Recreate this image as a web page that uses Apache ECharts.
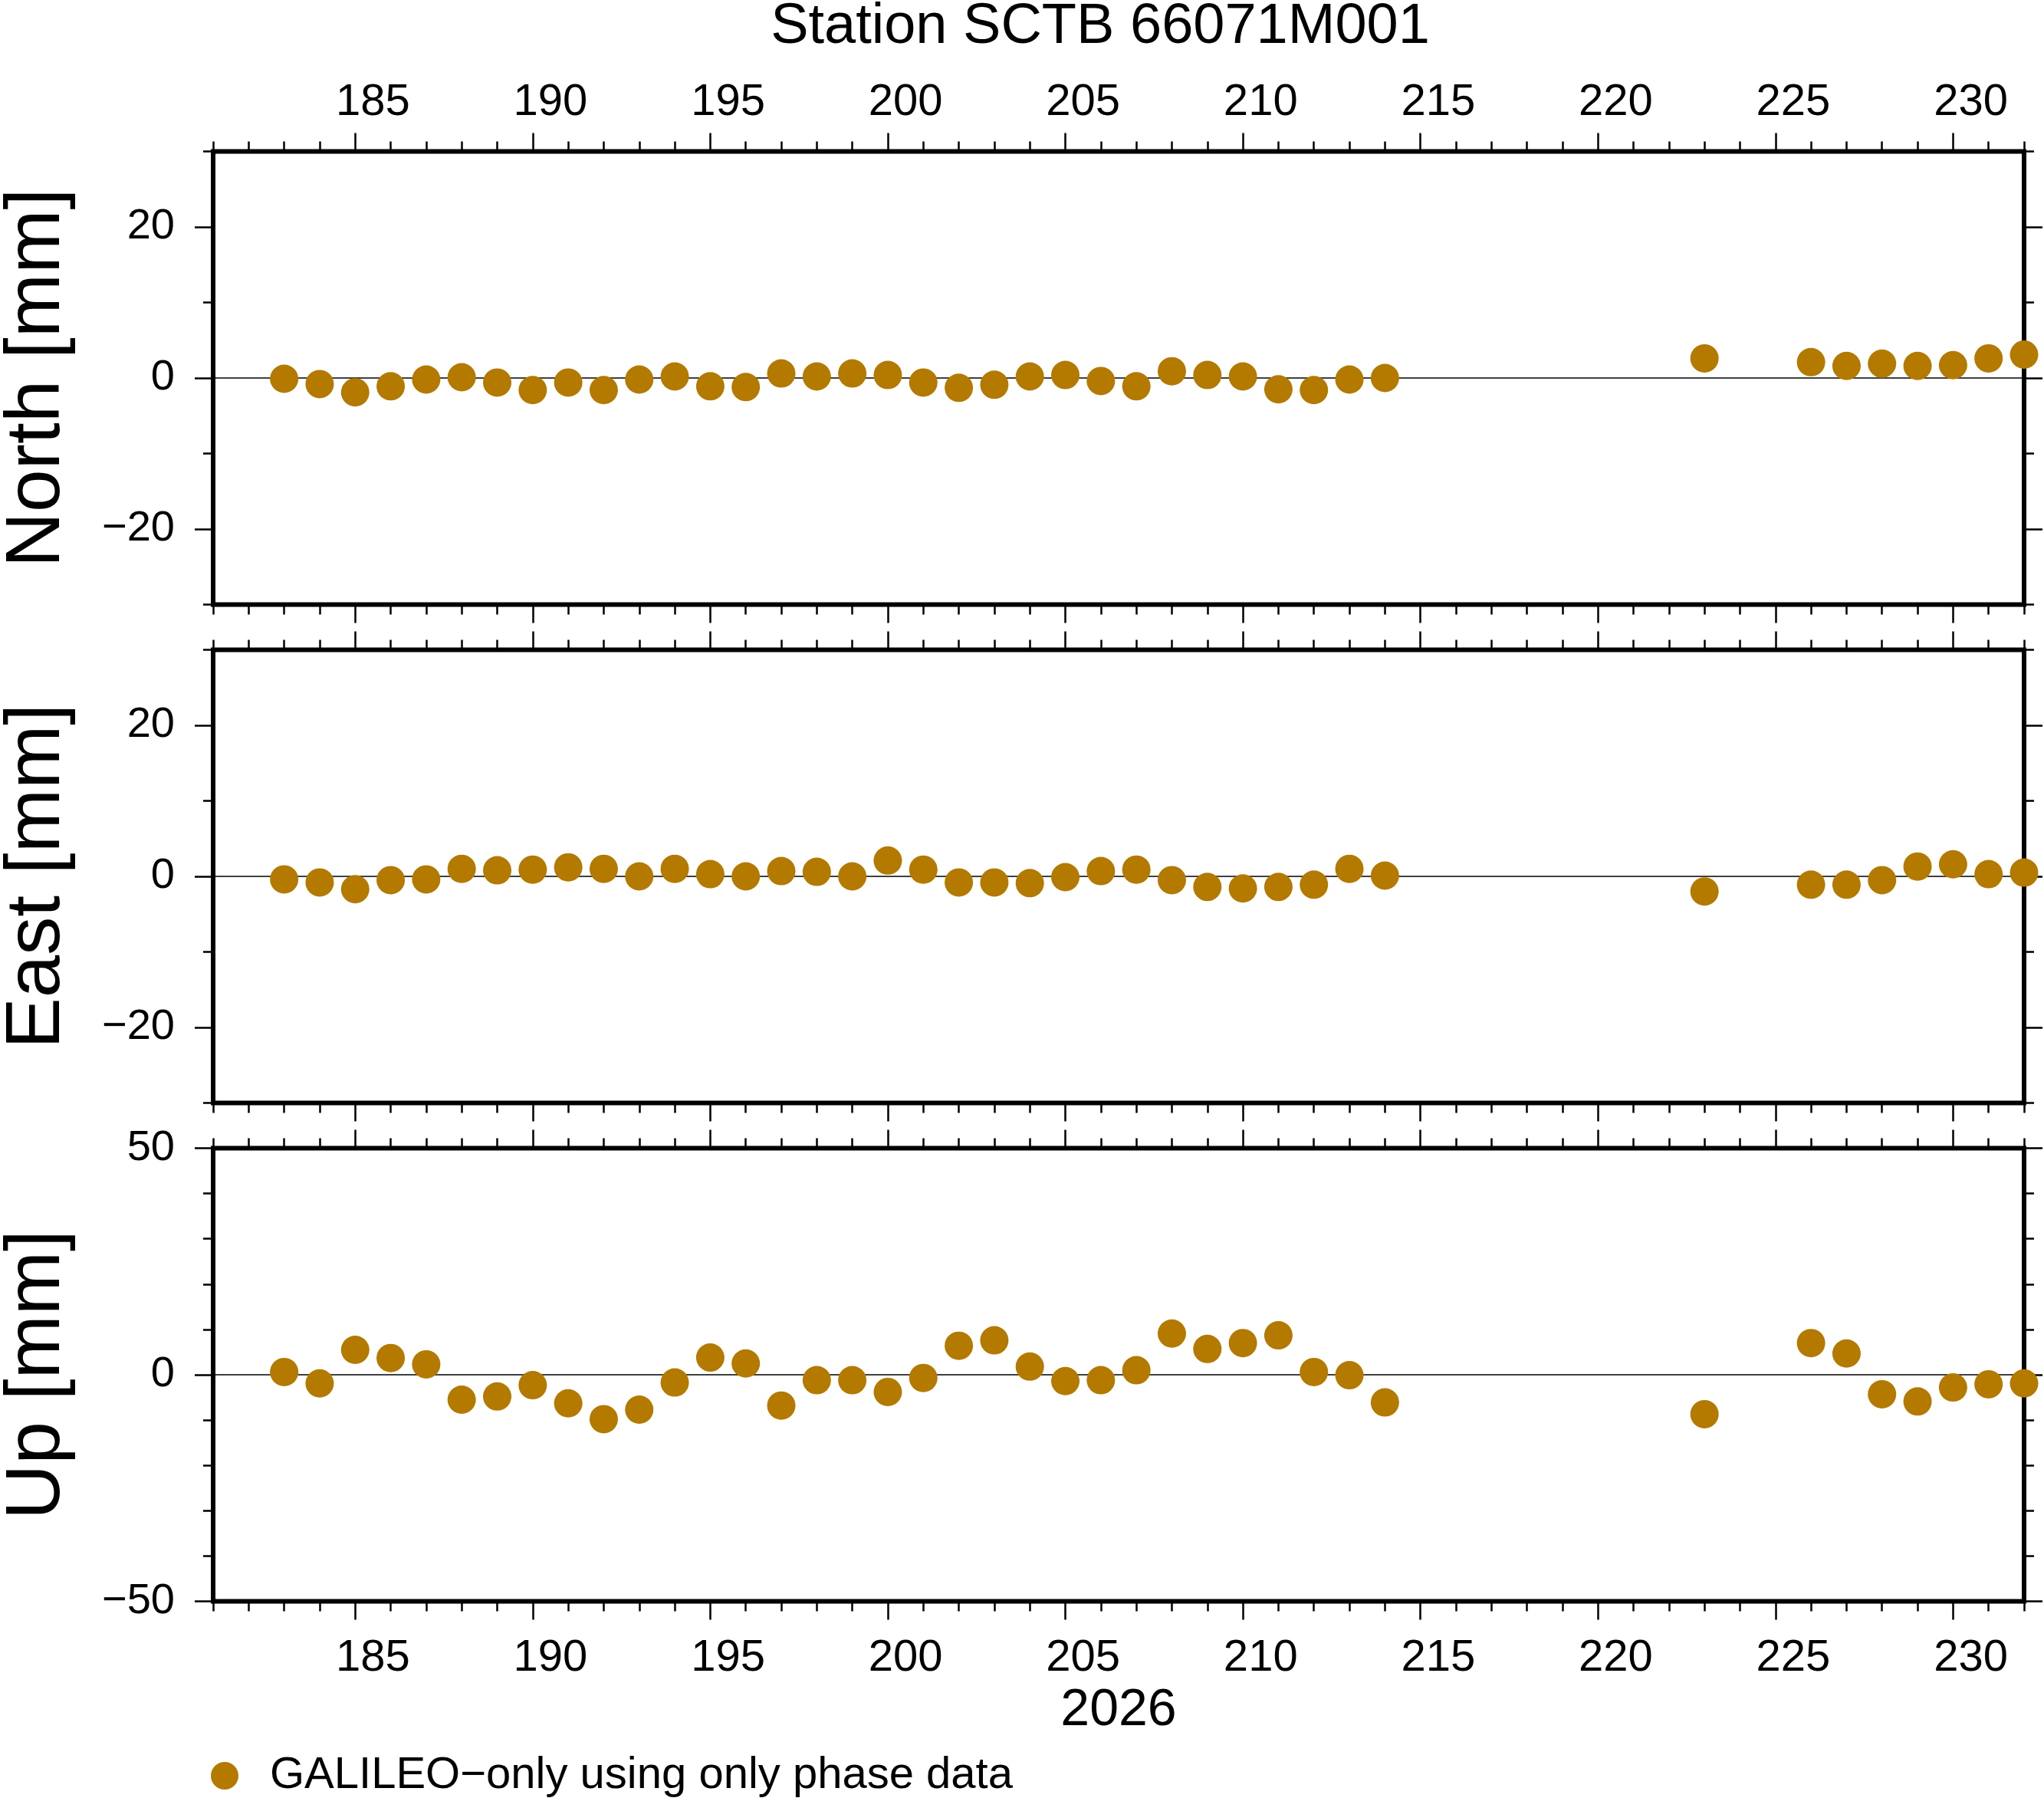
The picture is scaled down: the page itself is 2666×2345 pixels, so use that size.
<!DOCTYPE html>
<html>
<head>
<meta charset="utf-8">
<title>Station SCTB 66071M001</title>
<script src="https://cdn.jsdelivr.net/npm/echarts@6/dist/echarts.min.js"></script>
<style>
  html, body { margin: 0; padding: 0; background: #fff; }
  #chart { width: 2666px; height: 2345px; }
</style>
</head>
<body>
<div id="chart"></div>
<script>
// day of year 2026
var days = [183, 184, 185, 186, 187, 188, 189, 190, 191, 192, 193, 194, 195, 196, 197, 198,
            199, 200, 201, 202, 203, 204, 205, 206, 207, 208, 209, 210, 211, 212, 213, 214,
            223, 226, 227, 228, 229, 230, 231, 232];
// residuals in mm
var north = [-0.1, -0.8, -1.9, -1.1, -0.2, 0.1, -0.6, -1.6, -0.6, -1.6, -0.2, 0.2, -1.1, -1.2, 0.6, 0.2,
             0.6, 0.4, -0.6, -1.3, -0.9, 0.2, 0.4, -0.4, -1.1, 0.9, 0.4, 0.2, -1.5, -1.6, -0.2, 0.0,
             2.6, 2.1, 1.6, 1.9, 1.6, 1.7, 2.6, 3.1];
var east = [-0.4, -0.8, -1.7, -0.5, -0.4, 1.0, 0.8, 0.9, 1.2, 1.0, 0.0, 1.0, 0.3, 0.0, 0.7, 0.6,
            0.0, 2.1, 0.9, -0.8, -0.8, -0.9, -0.1, 0.7, 0.9, -0.5, -1.4, -1.6, -1.4, -1.1, 1.0, 0.1,
            -2.0, -1.1, -1.1, -0.5, 1.3, 1.6, 0.3, 0.5];
var up = [0.6, -1.9, 5.5, 3.7, 2.3, -5.5, -4.8, -2.3, -6.3, -9.8, -7.7, -1.7, 3.8, 2.5, -6.8, -1.2,
          -1.2, -3.8, -0.7, 6.4, 7.6, 1.8, -1.4, -1.2, 1.0, 9.1, 5.7, 7.0, 8.7, 0.6, -0.1, -6.1,
          -8.7, 7.0, 4.7, -4.3, -5.9, -2.8, -2.1, -1.9];

var xMin = 181, xMax = 232;
var xMajor = [185, 190, 195, 200, 205, 210, 215, 220, 225, 230];
var yNames = ['North [mm]', 'East [mm]', 'Up [mm]'];
var yRanges = [[-30, 30], [-30, 30], [-50, 50]];
var yMajor = [[-20, 0, 20], [-20, 0, 20], [-50, 0, 50]];
var seriesName = 'GALILEO\u2212only using only phase data';
var dotColor = '#b47a00';

var FONT = 'Liberation Sans, Arial, Helvetica, sans-serif';
var GRID_TOP = [197.5, 847.5, 1497.5];
var GRID_H = 591;

function fmt(v) {
    return v < 0 ? '\u2212' + Math.abs(v) : String(v);
}

var tickStyle = { color: '#000', width: 2.5 };
var noLine = { show: false, onZero: false };
var grids = [], xAxes = [], yAxes = [], series = [];
var panelValues = [north, east, up];

for (var g = 0; g < 3; g++) {
    grids.push({
        left: 278, right: 26, top: GRID_TOP[g], height: GRID_H,
        outerBoundsMode: 'none', containLabel: false,
        show: true, borderColor: '#000', borderWidth: 6, backgroundColor: 'transparent'
    });

    // x axes: minor + major ticks on both sides
    var xMainIndex = xAxes.length;
    ['bottom', 'top'].forEach(function (pos) {
        xAxes.push({
            type: 'value', gridIndex: g, position: pos, min: xMin, max: xMax, interval: 1,
            axisLine: noLine, splitLine: { show: false }, axisLabel: { show: false },
            axisTick: { show: true, length: 13, lineStyle: tickStyle }
        });
        xAxes.push({
            type: 'value', gridIndex: g, position: pos, min: xMin, max: xMax,
            axisLine: noLine, splitLine: { show: false }, axisLabel: { show: false },
            axisTick: { show: true, length: 24, customValues: xMajor, lineStyle: tickStyle }
        });
    });
    // day labels sit in the middle of the day, half a day to the right of the tick
    if (g === 0 || g === 2) {
        xAxes.push({
            type: 'value', gridIndex: g, position: g === 0 ? 'top' : 'bottom',
            min: xMin - 0.5, max: xMax - 0.5,
            axisLine: noLine, splitLine: { show: false }, axisTick: { show: false },
            axisLabel: {
                show: true, customValues: xMajor, margin: g === 0 ? 35 : 45,
                fontSize: 58, fontFamily: FONT, color: '#000'
            },
            name: g === 2 ? '2026' : '', nameLocation: 'middle', nameGap: 109,
            nameTextStyle: { fontSize: 68, fontFamily: FONT, color: '#000' }
        });
    }

    // y axes
    var yMainIndex = yAxes.length;
    var r = yRanges[g];
    ['left', 'right'].forEach(function (pos) {
        yAxes.push({
            type: 'value', gridIndex: g, position: pos, min: r[0], max: r[1], interval: 10,
            axisLine: noLine, splitLine: { show: false }, axisLabel: { show: false },
            axisTick: { show: true, length: 13, lineStyle: tickStyle },
            name: pos === 'left' ? yNames[g] : '', nameLocation: 'middle', nameGap: 179,
            nameTextStyle: { fontSize: 100, fontFamily: FONT, color: '#000' }
        });
        yAxes.push({
            type: 'value', gridIndex: g, position: pos, min: r[0], max: r[1],
            axisLine: noLine, splitLine: { show: false },
            axisTick: { show: true, length: 24, customValues: yMajor[g], lineStyle: tickStyle },
            axisLabel: {
                show: pos === 'left', customValues: yMajor[g], margin: 50,
                fontSize: 56, fontFamily: FONT, color: '#000', formatter: fmt
            }
        });
    });

    // zero line
    series.push({
        type: 'line', name: 'zero', xAxisIndex: xMainIndex, yAxisIndex: yMainIndex,
        data: [[xMin, 0], [xMax, 0]], symbol: 'none', silent: true, z: 1,
        lineStyle: { color: '#000', width: 1.3 }
    });

    var pts = days.map(function (d, i) { return [d, panelValues[g][i]]; });
    series.push({
        type: 'scatter', name: seriesName, xAxisIndex: xMainIndex, yAxisIndex: yMainIndex,
        data: pts, symbol: 'circle', symbolSize: 37, clip: false, z: 3,
        itemStyle: { color: dotColor, opacity: 1 }
    });
}

var myChart = echarts.init(document.getElementById('chart'));
var option = {
    backgroundColor: '#fff',
    animation: false,
    grid: grids,
    xAxis: xAxes,
    yAxis: yAxes,
    series: series,
    legend: {
        data: [seriesName], left: 270, top: 2282, selectedMode: false,
        icon: 'circle', itemWidth: 36, itemHeight: 36,
        textStyle: { fontSize: 58, fontFamily: FONT, color: '#000', padding: [0, 0, 0, 36] }
    },
    graphic: [{
        type: 'text', x: 1435, y: 36,
        style: {
            text: 'Station SCTB 66071M001', fontSize: 74, fontFamily: FONT, fill: '#000',
            textAlign: 'center', textVerticalAlign: 'middle'
        }
    }]
};
myChart.setOption(option);
</script>
</body>
</html>
